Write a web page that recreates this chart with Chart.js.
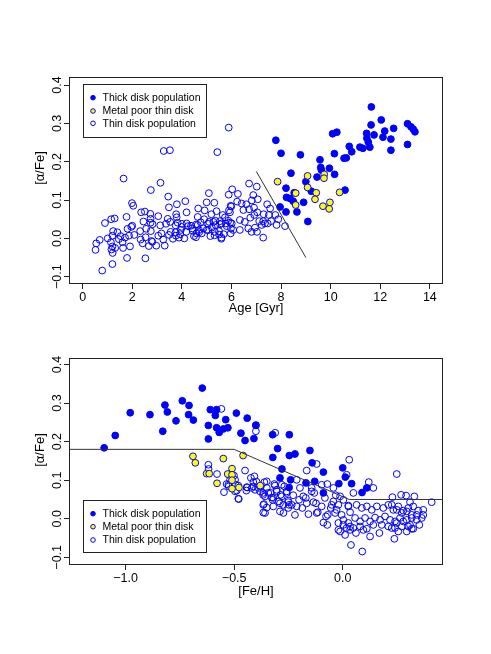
<!DOCTYPE html>
<html>
<head>
<meta charset="utf-8">
<script src="https://cdn.jsdelivr.net/npm/chart.js@4.4.1/dist/chart.umd.min.js"></script>
<style>
  html, body { margin: 0; padding: 0; background: #fff; }
  #wrap { position: relative; width: 491px; height: 654px; }
  canvas { position: absolute; left: 0; }
  #c1 { top: 0; }
  #c2 { top: 327px; }
</style>
</head>
<body>
<div id="wrap">
  <canvas id="c1" width="491" height="327"></canvas>
  <canvas id="c2" width="491" height="327"></canvas>
</div>
<script>
// ---------- data : panel 1, [alpha/Fe] vs Age ----------
const thickAge = [
  [7.79,0.256],[8.0,0.222],[8.78,0.218],[8.40,0.170],[9.0,0.148],[9.22,0.123],[9.45,0.160],[9.60,0.185],
  [9.63,0.178],[9.57,0.205],[9.95,0.183],[10.16,0.167],[10.58,0.126],[8.91,0.094],[8.20,0.131],[8.22,0.107],
  [8.36,0.104],[8.49,0.097],[8.53,0.119],[7.96,0.082],[8.20,0.069],[8.64,0.069],[9.08,0.044],[11.64,0.343],
  [11.63,0.296],[12.04,0.309],[13.10,0.299],[13.24,0.291],[13.33,0.285],[13.40,0.278],[12.54,0.287],[12.18,0.280],
  [12.11,0.264],[12.43,0.259],[12.43,0.230],[13.10,0.245],[11.75,0.270],[11.45,0.274],[11.46,0.261],[11.52,0.251],
  [11.58,0.238],[11.30,0.235],[11.18,0.238],[10.08,0.273],[10.25,0.277],[10.15,0.221],[10.54,0.209],[10.63,0.210],
  [10.75,0.240],[10.85,0.226]
];
const poorAge = [
  [7.86,0.148],[9.07,0.163],[9.07,0.133],[9.42,0.119],[9.37,0.102],[8.59,0.118],[8.59,0.087],
  [10.36,0.120],[9.69,0.084],[9.97,0.094],[9.94,0.077],[9.74,0.167],[9.73,0.157]
];
const thinAge = [
  [3.27,0.228],[3.52,0.230],[1.65,0.156],[3.14,0.145],[2.75,0.126],[3.45,0.109],[4.14,0.097],[3.80,0.089],
  [1.99,0.092],[2.04,0.085],[3.48,0.081],[2.36,0.068],[2.51,0.070],[2.73,0.064],[4.19,0.068],[3.77,0.063],
  [1.77,0.056],[0.90,0.040],[1.15,0.050],[1.29,0.052],[2.00,0.033],[2.74,0.051],[3.05,0.058],[3.43,0.051],
  [3.79,0.055],[2.82,0.037],[3.13,0.034],[3.36,0.038],[3.53,0.043],[1.23,0.019],[1.40,0.016],[1.81,0.025],
  [1.96,0.030],[2.32,0.019],[2.56,0.025],[2.75,0.019],[3.75,0.034],[4.00,0.038],[4.25,0.032],[4.57,0.036],
  [1.53,0.006],[1.71,0.002],[1.87,0.007],[1.01,0.000],[1.20,0.007],[0.69,-0.004],[0.55,-0.013],[0.52,-0.030],
  [1.14,-0.010],[1.20,-0.021],[1.16,-0.029],[1.31,-0.025],[1.46,-0.002],[1.61,-0.010],[1.63,-0.025],[1.91,-0.021],
  [1.21,-0.038],[1.79,-0.051],[2.53,-0.052],[1.20,-0.067],[0.79,-0.084],[2.08,0.009],[2.34,-0.003],[2.54,0.003],
  [2.81,-0.009],[2.97,-0.019],[3.25,-0.003],[3.48,0.009],[3.31,-0.019],[2.67,-0.020],[2.42,-0.013],[2.78,-0.007],
  [3.05,0.007],[3.18,0.013],[3.55,0.017],[3.75,0.016],[3.96,0.022],[4.18,0.017],[4.49,0.006],[4.42,0.026],
  [3.64,-0.001],[3.88,0.002],[4.10,0.000],[2.45,0.044],[2.74,0.041],[5.43,0.225],[5.89,0.289],[5.89,0.114],
  [6.03,0.128],[5.09,0.118],[4.92,0.073],[5.19,0.063],[5.40,0.071],[5.65,0.061],[5.90,0.073],[5.99,0.083],
  [4.64,0.056],[4.90,0.050],[5.10,0.043],[5.35,0.046],[5.54,0.037],[5.77,0.039],[5.95,0.041],[4.19,0.039],
  [4.37,0.033],[3.99,0.030],[3.83,0.041],[4.44,0.020],[4.70,0.016],[5.00,0.022],[5.21,0.028],[5.50,0.019],
  [5.69,0.011],[5.97,0.013],[6.07,0.022],[4.57,0.003],[5.15,0.006],[5.32,0.008],[5.59,-0.001],[3.93,0.011],
  [3.76,0.007],[6.71,0.143],[7.02,0.135],[6.26,0.116],[6.88,0.113],[7.06,0.102],[6.82,0.099],[5.00,0.094],
  [5.31,0.093],[4.66,0.078],[5.97,0.085],[6.23,0.096],[6.41,0.091],[6.60,0.089],[6.71,0.076],[6.48,0.074],
  [6.91,0.080],[7.04,0.068],[7.44,0.089],[7.56,0.078],[7.30,0.063],[7.51,0.061],[7.77,0.061],[5.94,0.068],
  [5.74,0.055],[5.54,0.045],[5.87,0.046],[6.01,0.039],[6.34,0.048],[6.54,0.043],[6.76,0.054],[6.92,0.061],
  [7.12,0.045],[7.28,0.045],[7.35,0.039],[7.60,0.045],[7.89,0.050],[8.16,0.032],[4.64,0.035],[4.76,0.042],
  [5.06,0.038],[5.27,0.043],[5.36,0.035],[5.60,0.039],[5.81,0.032],[5.06,0.022],[5.33,0.017],[5.50,0.010],
  [5.60,0.002],[5.98,0.026],[6.34,0.022],[6.68,0.026],[6.81,0.017],[6.95,0.028],[7.22,0.035],[7.03,0.017],
  [7.28,0.002],[7.82,0.035],[7.46,0.039],[4.59,0.013],[4.69,0.022],[4.87,0.026],[4.80,0.013]
];
const cutAge = [[7.0,0.175],[9.0,-0.05]];
const ageTicks = [0, 2, 4, 6, 8, 10, 12, 14];

// ---------- data : panel 2, [alpha/Fe] vs [Fe/H] ----------
const thickFeh = [
  [-1.099,0.184],[-1.048,0.216],[-0.979,0.275],[-0.888,0.270],[-0.829,0.227],[-0.819,0.295],[-0.808,0.277],
  [-0.768,0.254],[-0.739,0.306],[-0.708,0.294],[-0.710,0.270],[-0.688,0.256],[-0.647,0.339],[-0.610,0.283],
  [-0.581,0.283],[-0.587,0.268],[-0.619,0.242],[-0.619,0.207],[-0.581,0.236],[-0.569,0.224],[-0.550,0.233],
  [-0.529,0.236],[-0.539,0.257],[-0.490,0.274],[-0.440,0.261],[-0.469,0.222],[-0.450,0.203],[-0.409,0.208],
  [-0.400,0.243],[-0.323,0.218],[-0.300,0.182],[-0.322,0.159],[-0.280,0.129],[-0.289,0.106],[-0.246,0.218],
  [-0.246,0.164],[-0.220,0.168],[-0.151,0.177],[-0.141,0.145],[-0.089,0.121],[-0.240,0.101],[-0.247,0.081],
  [-0.169,0.093],[-0.129,0.097],[-0.089,0.067],[0.0,0.132],[0.012,0.108],[-0.018,0.091],[0.041,0.091],
  [0.089,0.068],[0.111,0.080]
];
const poorFeh = [
  [-0.690,0.162],[-0.679,0.145],[-0.459,0.164],[-0.550,0.156],[-0.510,0.130],[-0.627,0.117],[-0.615,0.117],
  [-0.530,0.116],[-0.510,0.114],[-0.510,0.100],[-0.579,0.092],[-0.510,0.078],[-0.478,0.081],[-0.380,0.086]
];
const thinFeh = [
  [-0.559,0.285],[-0.400,0.242],[-0.400,0.227],[-0.311,0.223],[-0.619,0.140],[-0.618,0.129],[-0.579,0.116],
  [-0.501,0.112],[-0.450,0.125],[-0.527,0.088],[-0.547,0.069],[-0.493,0.088],[-0.488,0.073],[-0.444,0.073],
  [-0.407,0.110],[-0.412,0.095],[-0.397,0.096],[-0.419,0.080],[-0.389,0.080],[-0.361,0.095],[-0.350,0.080],
  [-0.367,0.062],[-0.332,0.067],[-0.312,0.086],[-0.304,0.071],[-0.281,0.088],[-0.286,0.062],[-0.258,0.071],
  [-0.323,0.049],[-0.363,0.038],[-0.366,0.016],[-0.289,0.019],[-0.251,0.047],[-0.274,0.036],[-0.247,0.036],
  [-0.166,0.125],[-0.120,0.142],[-0.481,0.052],[-0.423,0.106],[-0.442,0.082],[-0.412,0.084],[-0.404,0.075],
  [-0.377,0.084],[-0.350,0.097],[-0.366,0.067],[-0.343,0.067],[-0.315,0.090],[-0.304,0.075],[-0.327,0.055],
  [-0.366,0.036],[-0.350,0.029],[-0.358,0.015],[-0.294,0.045],[-0.281,0.058],[-0.258,0.067],[-0.269,0.084],
  [-0.251,0.043],[-0.228,0.061],[-0.235,0.036],[-0.220,0.010],[-0.201,0.049],[-0.186,0.028],[-0.170,0.054],
  [-0.158,0.012],[-0.135,0.043],[-0.115,0.017],[-0.097,0.032],[-0.082,0.054],[-0.069,0.010],[-0.051,0.036],
  [-0.032,0.061],[-0.028,0.023],[-0.131,0.067],[-0.212,0.101],[-0.197,0.080],[-0.143,0.080],[-0.097,0.088],
  [0.030,0.153],[0.018,0.114],[0.141,0.080],[0.249,0.116],[0.120,0.095],[0.049,0.067],[0.038,-0.068],
  [0.090,-0.085],[0.169,-0.037],[0.238,-0.052],[0.410,0.043],[0.371,0.023],[0.348,0.021],[0.269,0.062],
  [0.292,0.060],[0.330,0.058],[0.229,0.056],[0.310,0.043],[-0.043,0.045],[-0.020,0.036],[0.003,0.049],
  [0.026,0.032],[-0.035,0.015],[-0.005,0.010],[0.034,0.017],[0.064,0.036],[0.088,0.028],[0.111,0.032],
  [0.134,0.023],[0.157,0.032],[0.187,0.028],[0.210,0.036],[0.233,0.023],[0.256,0.032],[0.279,0.021],
  [0.302,0.028],[0.325,0.032],[0.341,0.010],[0.318,0.002],[0.295,-0.003],[0.264,0.002],[0.241,-0.007],
  [0.218,-0.003],[0.195,0.006],[0.172,-0.003],[0.149,0.003],[0.126,-0.007],[0.103,0.002],[0.080,-0.007],
  [0.057,0.002],[0.026,-0.011],[0.003,-0.016],[-0.020,-0.011],[-0.012,-0.033],[0.018,-0.024],[0.049,-0.024],
  [0.080,-0.020],[0.111,-0.026],[0.141,-0.016],[0.180,-0.016],[0.210,-0.020],[0.241,-0.024],[0.272,-0.020],
  [0.302,-0.020],[0.318,-0.026],[0.126,-0.046],[0.095,-0.029],[0.061,-0.037],[0.034,-0.029],[0.011,-0.042],
  [0.226,0.036],[0.249,0.023],[0.272,0.015],[0.295,0.019],[0.318,0.010],[0.341,-0.003],[0.364,0.002],
  [0.279,-0.007],[0.310,-0.016],[0.249,-0.011],[0.226,-0.024],[0.295,-0.033],[0.325,-0.026],[0.256,-0.033],
  [0.353,-0.016],[0.371,0.010],[-0.381,0.071],[-0.358,0.058],[-0.320,0.054],[-0.320,0.032],[-0.289,0.040],
  [-0.273,0.015],[-0.251,0.028],[-0.212,0.032],[-0.182,0.058],[-0.166,0.040],[-0.143,0.071],[-0.123,0.040],
  [-0.120,0.015],[-0.077,0.006],[-0.071,0.090],[-0.043,0.080],[-0.012,0.058],[0.003,-0.003],[0.026,0.034],
  [0.034,-0.020],[-0.071,-0.016],[-0.020,-0.029],[-0.055,0.028],[-0.089,-0.010],[-0.523,0.114],[-0.496,0.101],
  [-0.519,0.101],[-0.535,0.090],[-0.525,0.084],[-0.481,0.086],[-0.496,0.071],[-0.479,0.051],[-0.440,0.081]
];
const cutFeh = [[-1.4,0.18],[-0.5,0.18],[0.03,0.05],[0.6,0.05]];
const fehTicks = [-1.0, -0.5, 0.0];
const alphaTicks = [-0.1, 0.0, 0.1, 0.2, 0.3, 0.4];

const legendLabels = ['Thick disk population', 'Metal poor thin disk', 'Thin disk population'];

// ---------- style ----------
const FONT = "'Liberation Sans', Arial, Helvetica, sans-serif";
const BLUE = '#0000ff';
const YELLOW = '#ffff00';
const INK = '#222';

const pts = arr => arr.map(([x, y]) => ({ x, y }));
const num = v => (v < 0 ? '\u2212' : '') + Math.abs(v).toFixed(1);

// frame, rotated y tick labels, axis titles and legend box (R base-graphics look)
const decor = {
  id: 'decor',
  afterDraw(chart, args, o) {
    const { ctx, chartArea: a, scales: { y } } = chart;
    ctx.save();
    ctx.strokeStyle = INK;
    ctx.lineWidth = 1;
    ctx.strokeRect(a.left + 0.5, a.top + 0.5, a.right - a.left - 1, a.bottom - a.top - 1);

    ctx.fillStyle = '#000';
    ctx.font = '12.5px ' + FONT;
    ctx.textAlign = 'center';
    ctx.textBaseline = 'alphabetic';
    alphaTicks.forEach(v => {
      ctx.save();
      ctx.translate(61, y.getPixelForValue(v));
      ctx.rotate(-Math.PI / 2);
      ctx.fillText(num(v), 0, 0);
      ctx.restore();
    });

    ctx.font = '13px ' + FONT;
    ctx.textBaseline = 'middle';
    ctx.save();
    ctx.translate(40, o.yTitleY);
    ctx.rotate(-Math.PI / 2);
    ctx.fillText('[\u03b1/Fe]', 0, 0);
    ctx.restore();
    ctx.fillText(o.xTitle, (a.left + a.right) / 2, o.xTitleY);

    // legend
    const L = o.legend;
    ctx.strokeStyle = INK;
    ctx.strokeRect(L.x + 0.5, L.y + 0.5, L.w, L.h);
    ctx.font = '10.5px ' + FONT;
    ctx.textAlign = 'left';
    const fills = [BLUE, YELLOW, 'rgba(0,0,0,0)'];
    legendLabels.forEach((t, i) => {
      const cy = L.y + L.rows[i];
      ctx.beginPath();
      ctx.arc(L.x + 10, cy, 2.3, 0, Math.PI * 2);
      ctx.fillStyle = fills[i];
      ctx.fill();
      ctx.strokeStyle = BLUE;
      ctx.stroke();
      ctx.fillStyle = '#000';
      ctx.fillText(t, L.x + 19.5, cy + 0.5);
    });
    ctx.restore();
  }
};

function pointSet(data, fill) {
  return {
    data: pts(data),
    pointRadius: 3.4,
    pointBorderWidth: 1,
    pointBorderColor: BLUE,
    pointBackgroundColor: fill,
    borderColor: BLUE,
    backgroundColor: fill,
    showLine: false
  };
}

function makeChart(id, cfg) {
  return new Chart(document.getElementById(id), {
    type: 'scatter',
    data: {
      datasets: [
        { data: pts(cfg.cut), showLine: true, borderColor: '#333', borderWidth: 1, pointRadius: 0, fill: false },
        pointSet(cfg.poor, YELLOW),
        pointSet(cfg.thick, BLUE),
        pointSet(cfg.thin, 'rgba(0,0,0,0)')
      ]
    },
    options: {
      responsive: false,
      devicePixelRatio: 1,
      animation: false,
      events: [],
      layout: { padding: { top: cfg.padTop, right: 48, bottom: cfg.padBottom, left: 0 } },
      plugins: {
        legend: { display: false },
        tooltip: { enabled: false },
        decor: cfg.decor
      },
      scales: {
        x: {
          type: 'linear',
          min: cfg.xMin, max: cfg.xMax,
          afterFit: s => { s.height = 43; },
          afterBuildTicks: s => { s.ticks = cfg.xTicks.map(v => ({ value: v })); },
          border: { display: false },
          grid: { drawOnChartArea: false, drawTicks: true, tickLength: 5, color: INK },
          ticks: {
            color: '#000', padding: 1, maxRotation: 0, autoSkip: false,
            font: { family: FONT, size: 12.5 },
            callback: cfg.xFormat
          }
        },
        y: {
          type: 'linear',
          min: cfg.yMin, max: cfg.yMax,
          afterFit: s => { s.width = 69; },
          afterBuildTicks: s => { s.ticks = alphaTicks.map(v => ({ value: v })); },
          border: { display: false },
          grid: { drawOnChartArea: false, drawTicks: true, tickLength: 5, color: INK },
          ticks: { display: false }
        }
      }
    },
    plugins: [decor]
  });
}

makeChart('c1', {
  cut: cutAge, poor: poorAge, thick: thickAge, thin: thinAge,
  xMin: -0.55, xMax: 14.53, yMin: -0.119, yMax: 0.421,
  xTicks: ageTicks, xFormat: v => String(v),
  padTop: 77, padBottom: 0,
  decor: {
    xTitle: 'Age [Gyr]', xTitleY: 308, yTitleY: 168,
    legend: { x: 83, y: 84, w: 123, h: 53, rows: [13.7, 27, 39.3] }
  }
});

makeChart('c2', {
  cut: cutFeh, poor: poorFeh, thick: thickFeh, thin: thinFeh,
  xMin: -1.261, xMax: 0.462, yMin: -0.12, yMax: 0.417,
  xTicks: fehTicks, xFormat: v => num(v),
  padTop: 31, padBottom: 46,
  decor: {
    xTitle: '[Fe/H]', xTitleY: 264.5, yTitleY: 123,
    legend: { x: 83, y: 173, w: 123, h: 52, rows: [13.7, 26.7, 40] }
  }
});
</script>
</body>
</html>
